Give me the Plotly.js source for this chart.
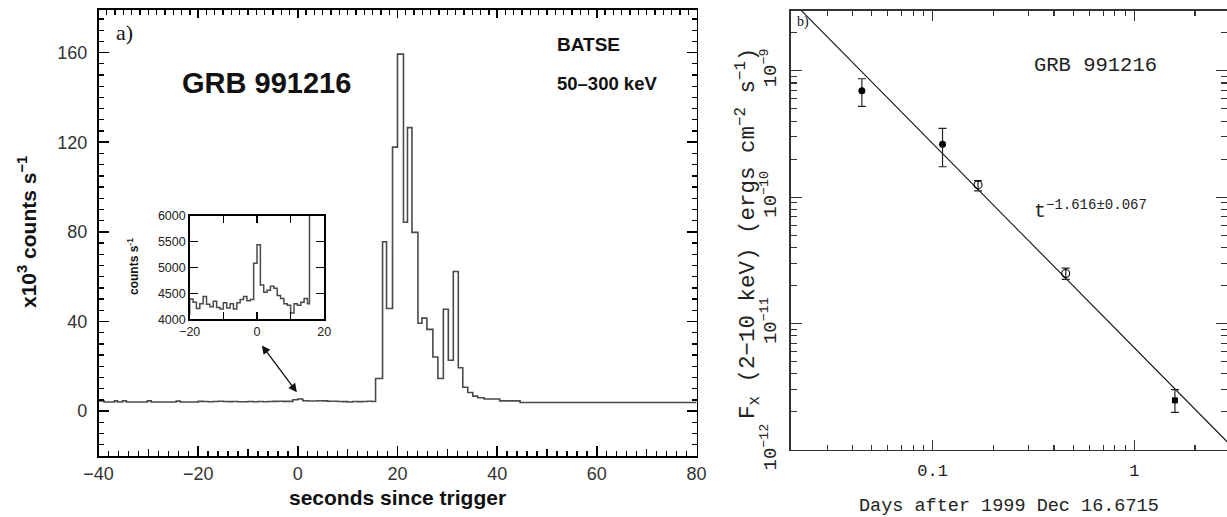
<!DOCTYPE html>
<html>
<head>
<meta charset="utf-8">
<script src="https://cdn.plot.ly/plotly-3.0.1.min.js"></script>
<style>html,body{margin:0;padding:0;background:#fff;overflow:hidden;}</style>
</head>
<body>
<div id="chart" style="width:1227px;height:517px;"></div>
<script>
// ---------- Panel a) BATSE light curve (x10^3 counts/s) ----------
const preTime   = [-40, -38.9, -36.8, -36.2, -35.2, -34.4, -30.2, -29.4, -24.4, -23.6];
const preRate   = [4.6, 4.1, 4.6, 4.1, 4.6, 4.1, 4.6, 4.1, 4.5, 4.1];
// inset region (counts/s)
const insetTime  = [-20,-19,-18,-17,-16,-15,-14,-13,-12,-11,-10,-9,-8,-7,-6,-5,-4,-3,-2,-1,0,1,2,3,4,5,6,7,8,9,10,11,12,13,14,15];
const insetCounts= [4390,4330,4210,4300,4440,4290,4240,4350,4230,4200,4320,4220,4300,4200,4320,4380,4440,4360,4380,5080,5440,4660,4520,4560,4640,4600,4460,4400,4300,4270,4120,4300,4270,4330,4400,4300];
// main burst (x10^3 counts/s)
const burstTime = [15.6, 17.0, 17.8, 19.0, 20.0, 21.2, 22.0, 22.9, 24.1, 24.9, 25.9, 27.1, 28.1, 29.2, 30.2, 31.2, 32.2, 33.1, 34.1, 35.1, 36.1, 37.4, 40.5, 44.6, 80];
const burstRate = [14.6, 75.6, 45.8, 117.8, 159.3, 84.3, 126.5, 79.8, 39.2, 41.5, 36.5, 24.2, 14.6, 45.5, 22.7, 62.3, 19.4, 10.7, 8.3, 6.7, 6.0, 5.4, 4.6, 3.9, 3.9];

const mainTime = preTime.concat(insetTime, burstTime);
const mainRate = preRate.concat(insetCounts.map(c => c / 1000), burstRate);

// ---------- Panel b) X-ray afterglow ----------
const filledDays = [0.0446, 0.112];
const filledFlux = [6.95e-10, 2.62e-10];
const filledHi   = [8.64e-10, 3.50e-10];
const filledLo   = [5.22e-10, 1.74e-10];

const openDays = [0.168, 0.457];
const openFlux = [1.25e-10, 2.49e-11];
const openHi   = [1.35e-10, 2.75e-11];
const openLo   = [1.12e-10, 2.24e-11];

const squareDays = [1.59];
const squareFlux = [2.47e-12];
const squareHi   = [3.0e-12];
const squareLo   = [1.98e-12];

const fitDays = [0.015, 3.5];
const fitFlux = [5.7e-9, 8.5e-13];

const xTickVals = [0.1, 1];
const xTickText = ['0.1', '1'];
const yTickVals = [1e-12, 1e-11, 1e-10, 1e-9];
const yTickText = ['10<sup>\u221212</sup>', '10<sup>\u221211</sup>', '10<sup>\u221210</sup>', '10<sup>\u22129</sup>'];

function errs(y, hi, lo) {
  return {type: 'data', symmetric: false,
          array: y.map((v, i) => hi[i] - v),
          arrayminus: y.map((v, i) => v - lo[i]),
          color: '#222', thickness: 1.2, width: 4};
}

const W = 1227, H = 517;
const px = v => v / W;
const py = v => 1 - v / H;

const lineCol = '#4a4a4a';
const traces = [
  {x: mainTime, y: mainRate, xaxis: 'x', yaxis: 'y', mode: 'lines',
   line: {shape: 'hv', color: lineCol, width: 1.6}, hoverinfo: 'skip'},
  {x: [], y: [], xaxis: 'x2', yaxis: 'y', mode: 'lines', hoverinfo: 'skip'},
  {x: [], y: [], xaxis: 'x4', yaxis: 'y', mode: 'lines', hoverinfo: 'skip'},
  {x: mainTime, y: mainRate.map(v => v * 1000), xaxis: 'x3', yaxis: 'y3', mode: 'lines',
   line: {shape: 'hv', color: lineCol, width: 1.5}, hoverinfo: 'skip'},
  {x: fitDays, y: fitFlux, xaxis: 'x5', yaxis: 'y5', mode: 'lines',
   line: {color: '#111', width: 1.1}, hoverinfo: 'skip'},
  {x: filledDays, y: filledFlux, xaxis: 'x5', yaxis: 'y5', mode: 'markers',
   marker: {symbol: 'circle', size: 7, color: '#000'}, error_y: errs(filledFlux, filledHi, filledLo)},
  {x: openDays, y: openFlux, xaxis: 'x5', yaxis: 'y5', mode: 'markers',
   marker: {symbol: 'circle-open', size: 8, color: '#000', line: {width: 1.1}}, error_y: errs(openFlux, openHi, openLo)},
  {x: squareDays, y: squareFlux, xaxis: 'x5', yaxis: 'y5', mode: 'markers',
   marker: {symbol: 'square', size: 6, color: '#000'}, error_y: errs(squareFlux, squareHi, squareLo)}
];

const sansTick = {family: 'Liberation Sans, Arial, sans-serif', size: 18, color: '#333'};
const monoTick = {family: 'Liberation Mono, Courier New, monospace', size: 17, color: '#222'};

const layout = {
  width: W, height: H, margin: {l: 0, r: 0, t: 0, b: 0},
  paper_bgcolor: '#fff', plot_bgcolor: 'rgba(0,0,0,0)', showlegend: false,
  xaxis: {domain: [px(98.5), px(696.5)], range: [-40, 80], anchor: 'y',
          tickmode: 'linear', tick0: -40, dtick: 20, ticks: 'inside', ticklen: 10, tickwidth: 1.5, tickcolor: '#000',
          showline: true, linewidth: 1.6, linecolor: '#000', mirror: true,
          showgrid: false, zeroline: false, tickfont: sansTick, ticklabelstandoff: 1,
          minor: {dtick: 2, tick0: -40, ticks: 'inside', ticklen: 5, tickwidth: 1.3, tickcolor: '#000', showgrid: false}},
  xaxis2: {overlaying: 'x', side: 'top', anchor: 'y', range: [-40, 80],
           tickmode: 'linear', tick0: -40, dtick: 20, ticks: 'inside', ticklen: 8, tickwidth: 1.5, tickcolor: '#000',
           showticklabels: false, showline: false, showgrid: false, zeroline: false,
           minor: {dtick: 20 / 12, tick0: -40, ticks: 'inside', ticklen: 5, tickwidth: 1.3, tickcolor: '#000', showgrid: false}},
  xaxis4: {overlaying: 'x', side: 'bottom', anchor: 'y', range: [-40, 80],
           tickmode: 'array', tickvals: [-30, -10, 10, 30, 50, 70], ticks: 'inside', ticklen: 7.5, tickwidth: 1.4, tickcolor: '#000',
           showticklabels: false, showline: false, showgrid: false, zeroline: false},
  yaxis: {domain: [py(456), py(10)], range: [-20, 179], anchor: 'x',
          tickmode: 'linear', tick0: 0, dtick: 40, ticks: 'inside', ticklen: 10, tickwidth: 1.5, tickcolor: '#000',
          showline: true, linewidth: 1.6, linecolor: '#000', mirror: 'ticks',
          showgrid: false, zeroline: false, tickfont: sansTick, ticklabelstandoff: 6,
          minor: {dtick: 5, tick0: 0, ticks: 'inside', ticklen: 5, tickwidth: 1.3, tickcolor: '#000', showgrid: false}},
  xaxis3: {domain: [px(189.7), px(324.3)], range: [-20, 20], anchor: 'y3',
           tickmode: 'linear', tick0: -20, dtick: 20,
           ticks: 'inside', ticklen: 7, tickwidth: 1.4, tickcolor: '#000',
           showline: true, linewidth: 1.5, linecolor: '#000', mirror: 'ticks',
           showgrid: false, zeroline: false,
           minor: {dtick: 10, tick0: -20, ticks: 'inside', ticklen: 7, tickwidth: 1.4, tickcolor: '#000', showgrid: false},
           tickfont: {family: 'Liberation Sans, Arial, sans-serif', size: 12.5, color: '#222'}},
  yaxis3: {domain: [py(319.3), py(215.7)], range: [4000, 6000], anchor: 'x3',
           tickmode: 'linear', tick0: 4000, dtick: 500, ticks: 'inside', ticklen: 8, tickwidth: 1.4, tickcolor: '#000',
           showline: true, linewidth: 1.5, linecolor: '#000', mirror: 'ticks',
           showgrid: false, zeroline: false,
           tickfont: {family: 'Liberation Sans, Arial, sans-serif', size: 12.5, color: '#222'}},
  xaxis5: {domain: [px(790.7), 1], type: 'log', range: [-1.7036, 0.4596], anchor: 'y5',
           tickmode: 'array', tickvals: xTickVals, ticktext: xTickText,
           ticks: 'inside', ticklen: 10, tickwidth: 1.2, tickcolor: '#333',
           showline: true, linewidth: 1.3, linecolor: '#333', mirror: 'ticks',
           showgrid: false, zeroline: false, tickfont: monoTick, ticklabelstandoff: 4,
           minor: {tickmode: 'array',
                   tickvals: [0.02,0.03,0.04,0.05,0.06,0.07,0.08,0.09,0.2,0.3,0.4,0.5,0.6,0.7,0.8,0.9,2,3],
                   ticks: 'inside', ticklen: 5, tickwidth: 1.1, tickcolor: '#333', showgrid: false}},
  yaxis5: {domain: [py(450), py(10.7)], type: 'log', range: [-12.0002, -8.525], anchor: 'x5',
           tickmode: 'array', tickvals: yTickVals, ticktext: yTickText, tickangle: -90,
           ticks: 'inside', ticklen: 11, tickwidth: 1.2, tickcolor: '#333',
           showline: true, linewidth: 1.3, linecolor: '#333', mirror: 'ticks',
           showgrid: false, zeroline: false, tickfont: {family: 'Liberation Mono, Courier New, monospace', size: 19, color: '#222'},
           ticklabelstandoff: 6,
           minor: {tickmode: 'array',
                   tickvals: [2e-12,3e-12,4e-12,5e-12,6e-12,7e-12,8e-12,9e-12,2e-11,3e-11,4e-11,5e-11,6e-11,7e-11,8e-11,9e-11,
                              2e-10,3e-10,4e-10,5e-10,6e-10,7e-10,8e-10,9e-10,2e-9,3e-9],
                   ticks: 'inside', ticklen: 6, tickwidth: 1.1, tickcolor: '#333', showgrid: false}},
  annotations: [
    {xref: 'paper', yref: 'paper', x: px(114), y: py(32), xanchor: 'left', yanchor: 'middle', showarrow: false,
     text: 'a)', font: {family: 'Liberation Serif, Times New Roman, serif', size: 22, color: '#111'}},
    {xref: 'paper', yref: 'paper', x: px(266), y: py(83), xanchor: 'center', yanchor: 'middle', showarrow: false,
     text: '<b>GRB 991216</b>', font: {family: 'Liberation Sans, Arial, sans-serif', size: 29, color: '#111'}},
    {xref: 'paper', yref: 'paper', x: px(555), y: py(44), xanchor: 'left', yanchor: 'middle', showarrow: false,
     text: '<b>BATSE</b>', font: {family: 'Liberation Sans, Arial, sans-serif', size: 19, color: '#111'}},
    {xref: 'paper', yref: 'paper', x: px(555), y: py(83), xanchor: 'left', yanchor: 'middle', showarrow: false,
     text: '<b>50\u2013300 keV</b>', font: {family: 'Liberation Sans, Arial, sans-serif', size: 18.5, color: '#111'}},
    {xref: 'paper', yref: 'paper', x: px(27), y: py(232), xanchor: 'center', yanchor: 'middle', showarrow: false, textangle: -90,
     text: '<b>x10<sup>3</sup> counts s<sup>\u22121</sup></b>', font: {family: 'Liberation Sans, Arial, sans-serif', size: 21, color: '#111'}},
    {xref: 'paper', yref: 'paper', x: px(397.5), y: py(497), xanchor: 'center', yanchor: 'middle', showarrow: false,
     text: '<b>seconds since trigger</b>', font: {family: 'Liberation Sans, Arial, sans-serif', size: 21, color: '#111'}},
    {xref: 'paper', yref: 'paper', x: px(133), y: py(267), xanchor: 'center', yanchor: 'middle', showarrow: false, textangle: -90,
     text: '<b>counts s<sup>-1</sup></b>', font: {family: 'Liberation Sans, Arial, sans-serif', size: 12, color: '#111'}},
    {xref: 'x', yref: 'y', axref: 'x', ayref: 'y', x: -0.2, y: 8.5, ax: -7.44, ay: 30, text: '', showarrow: true,
     arrowhead: 2, startarrowhead: 2, arrowside: 'end+start', arrowsize: 1.3, startarrowsize: 1.3, arrowwidth: 1.3, arrowcolor: '#111'},
    {xref: 'paper', yref: 'paper', x: px(795), y: py(22), xanchor: 'left', yanchor: 'middle', showarrow: false,
     text: 'b)', font: {family: 'Liberation Serif, Times New Roman, serif', size: 14, color: '#111'}},
    {xref: 'paper', yref: 'paper', x: px(1032), y: py(65), xanchor: 'left', yanchor: 'middle', showarrow: false,
     text: 'GRB 991216', font: {family: 'Liberation Mono, Courier New, monospace', size: 20.5, color: '#222'}},
    {xref: 'paper', yref: 'paper', x: px(1032), y: py(210), xanchor: 'left', yanchor: 'middle', showarrow: false,
     text: 't<sup>\u22121.616\u00b10.067</sup>', font: {family: 'Liberation Mono, Courier New, monospace', size: 20, color: '#222'}},
    {xref: 'paper', yref: 'paper', x: px(1009), y: py(506), xanchor: 'center', yanchor: 'middle', showarrow: false,
     text: 'Days after 1999 Dec 16.6715', font: {family: 'Liberation Mono, Courier New, monospace', size: 18.5, color: '#222'}},
    {xref: 'paper', yref: 'paper', x: px(748), y: py(234), xanchor: 'center', yanchor: 'middle', showarrow: false, textangle: -90,
     text: 'F<sub>x</sub> (2\u221210 keV) (ergs cm<sup>\u22122</sup> s<sup>\u22121</sup>)',
     font: {family: 'Liberation Mono, Courier New, monospace', size: 22.5, color: '#222'}}
  ]
};

Plotly.newPlot('chart', traces, layout, {displayModeBar: false, staticPlot: true});
</script>
</body>
</html>
